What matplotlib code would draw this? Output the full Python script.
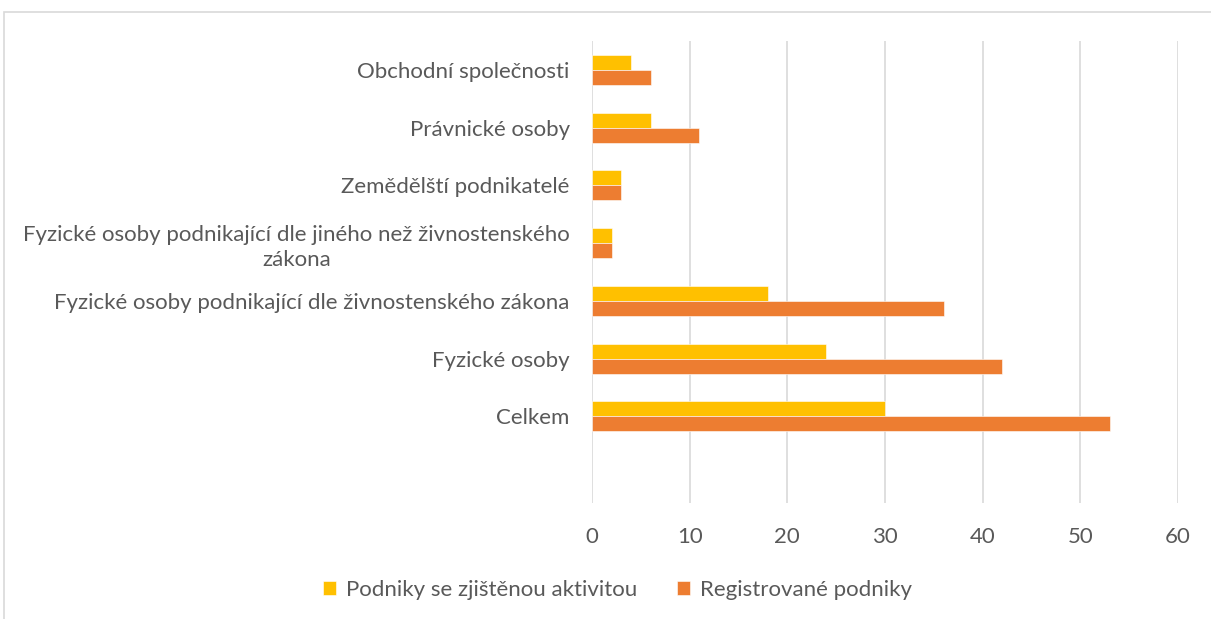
import matplotlib
matplotlib.use("Agg")
import matplotlib.pyplot as plt
from matplotlib.patches import Rectangle
import numpy as np

categories = [
    "Obchodní společnosti",
    "Právnické osoby",
    "Zemědělští podnikatelé",
    "Fyzické osoby podnikající dle jiného než živnostenského\nzákona",
    "Fyzické osoby podnikající dle živnostenského zákona",
    "Fyzické osoby",
    "Celkem",
]
active = [4, 6, 3, 2, 18, 24, 30]
registered = [6, 11, 3, 2, 36, 42, 53]
series_names = ["Podniky se zjištěnou aktivitou", "Registrované podniky"]
xticks = [0, 10, 20, 30, 40, 50, 60]

YELLOW = "#FFC000"
ORANGE = "#ED7D31"
GRID = "#D9D9D9"
TXT = "#595959"

plt.rcParams['font.family'] = ['Lato', 'DejaVu Sans']

W, H = 1211, 619
fig = plt.figure(figsize=(W / 100, H / 100), dpi=100)
ax = fig.add_axes([592 / W, 1 - 503 / H, (1178 - 592) / W, (503 - 41) / H])

y = np.arange(len(categories))
bh = 0.26
ax.barh(y - bh / 2, active, height=bh, color=YELLOW, edgecolor="white", linewidth=0.4,
        label=series_names[0], zorder=3)
ax.barh(y + bh / 2, registered, height=bh, color=ORANGE, edgecolor="white", linewidth=0.4,
        label=series_names[1], zorder=3)

ax.set_ylim(len(categories) + 0.5, -0.5)
ax.set_xlim(0, 60)
ax.set_xticks(xticks)
ax.set_xticklabels([str(t) for t in xticks])
ax.set_yticks(y)
ax.set_yticklabels(categories, multialignment="center", linespacing=1.3)
ax.tick_params(axis="both", length=0, labelsize=16, colors=TXT)
ax.tick_params(axis="x", pad=17)
ax.tick_params(axis="y", pad=16)
ax.grid(axis="x", color=GRID, linewidth=1.2, zorder=0)
for s in ax.spines.values():
    s.set_visible(False)

leg = fig.legend(loc="center", bbox_to_anchor=(0.5 + 12 / W, 1 - 590 / H), ncol=2, frameon=False,
                 fontsize=16, handlelength=0.6, handleheight=0.6, handletextpad=0.45,
                 columnspacing=1.8)
for t in leg.get_texts():
    t.set_color(TXT)

fig.patches.append(Rectangle((4 / W, -0.1), 2, 1 - 12 / H + 0.1, transform=fig.transFigure,
                             fill=False, edgecolor=GRID, linewidth=1.2))

fig.savefig("out.png", dpi=100)
